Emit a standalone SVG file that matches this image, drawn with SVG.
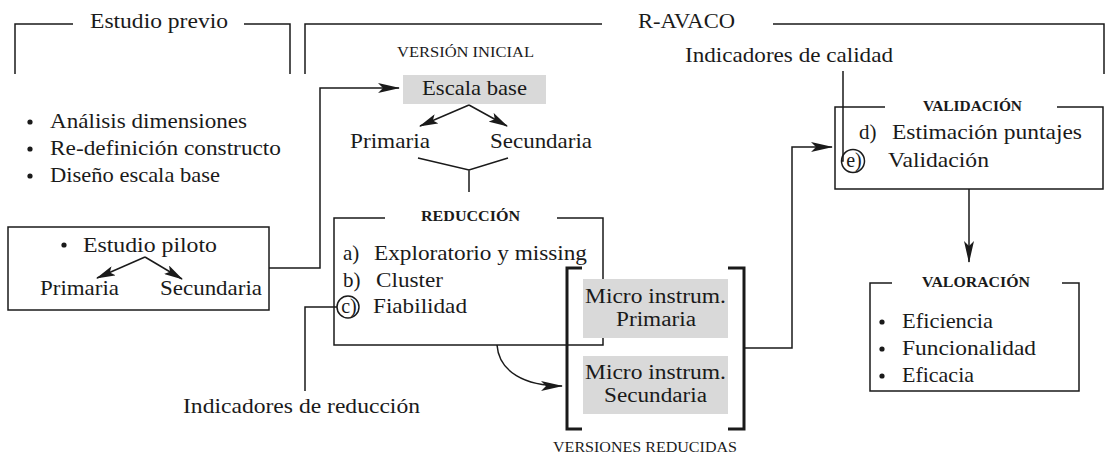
<svg xmlns="http://www.w3.org/2000/svg" width="1105" height="455" viewBox="0 0 1105 455">
<style>
text{font-family:"Liberation Serif","Times New Roman",serif;fill:#1a1a1a;font-size:21px}
.sc{font-size:14.5px}
.scb{font-size:14.5px;font-weight:bold}
.c{text-anchor:middle;font-size:20px}
.m{font-size:20px}
.ln{fill:none;stroke:#1a1a1a;stroke-width:1.5}
.br{fill:none;stroke:#1a1a1a;stroke-width:3}
.gray{fill:#d9d9d9}
.dot{fill:#1a1a1a}
</style>
<defs>
<marker id="big" viewBox="0 0 22 10" markerWidth="22" markerHeight="10" refX="21" refY="5" orient="auto" markerUnits="userSpaceOnUse">
<path d="M0,0 L22,5 L0,10 L5,5 z" fill="#1a1a1a"/>
</marker>
<marker id="sm" viewBox="0 0 19 10" markerWidth="19" markerHeight="10" refX="18" refY="5" orient="auto" markerUnits="userSpaceOnUse">
<path d="M0,0 L19,5 L0,10 L4,5 z" fill="#1a1a1a"/>
</marker>
</defs>

<g id="estudio-previo">
<path class="ln" d="M15,74 V24 H73 M244,24 H290 V74"/>
<text x="90" y="28" textLength="138" lengthAdjust="spacingAndGlyphs">Estudio previo</text>
<circle class="dot" cx="30" cy="122" r="2.6"/>
<text x="50" y="128" textLength="197" lengthAdjust="spacingAndGlyphs">Análisis dimensiones</text>
<circle class="dot" cx="30" cy="149" r="2.6"/>
<text x="50" y="155" textLength="231" lengthAdjust="spacingAndGlyphs">Re-definición constructo</text>
<circle class="dot" cx="30" cy="176" r="2.6"/>
<text x="50" y="182" textLength="170" lengthAdjust="spacingAndGlyphs">Diseño escala base</text>
</g>

<g id="r-avaco">
<path class="ln" d="M305,74 V24 H602 M773,24 H1104 V74"/>
<text x="638" y="28" textLength="97" lengthAdjust="spacingAndGlyphs">R-AVACO</text>
</g>

<g id="estudio-piloto">
<rect class="ln" x="8" y="227" width="261" height="83"/>
<circle class="dot" cx="64" cy="245" r="2.6"/>
<text x="83" y="252" textLength="134" lengthAdjust="spacingAndGlyphs">Estudio piloto</text>
<path class="ln" d="M145,257 L97,278" marker-end="url(#sm)"/>
<path class="ln" d="M145,257 L182,279" marker-end="url(#sm)"/>
<text x="40" y="295" textLength="79" lengthAdjust="spacingAndGlyphs">Primaria</text>
<text x="160" y="295" textLength="102" lengthAdjust="spacingAndGlyphs">Secundaria</text>
</g>

<g id="version-inicial">
<text class="sc" x="397" y="57" textLength="137" lengthAdjust="spacingAndGlyphs">VERSIÓN INICIAL</text>
<rect class="gray" x="403" y="75" width="143" height="29"/>
<text x="422" y="95" textLength="105" lengthAdjust="spacingAndGlyphs">Escala base</text>
<path class="ln" d="M469,105 L420,126" marker-end="url(#sm)"/>
<path class="ln" d="M469,105 L507,126" marker-end="url(#sm)"/>
<text x="350" y="148" textLength="80" lengthAdjust="spacingAndGlyphs">Primaria</text>
<text x="490" y="148" textLength="102" lengthAdjust="spacingAndGlyphs">Secundaria</text>
<path class="ln" d="M418,158 L469,170 L508,158 M469,170 V192"/>
</g>

<g id="reduccion">
<path class="ln" d="M385,218 H334 V345 H603 V218 H557"/>
<text class="scb" x="421" y="221" textLength="99" lengthAdjust="spacingAndGlyphs">REDUCCIÓN</text>
<text x="343" y="260">a)</text>
<text x="374" y="260" textLength="213" lengthAdjust="spacingAndGlyphs">Exploratorio y missing</text>
<text x="343" y="287">b)</text>
<text x="376" y="287" textLength="67" lengthAdjust="spacingAndGlyphs">Cluster</text>
<circle class="ln" cx="348" cy="307" r="11"/>
<text class="c" x="349" y="313">c)</text>
<text x="373" y="313" textLength="94" lengthAdjust="spacingAndGlyphs">Fiabilidad</text>
</g>

<g id="indicadores-reduccion">
<text x="183" y="413" textLength="237" lengthAdjust="spacingAndGlyphs">Indicadores de reducción</text>
</g>

<g id="versiones-reducidas">
<rect class="gray" x="583" y="279" width="145" height="59"/>
<text class="m" x="585" y="303" textLength="141" lengthAdjust="spacingAndGlyphs">Micro instrum.</text>
<text class="m" x="616" y="326" textLength="80" lengthAdjust="spacingAndGlyphs">Primaria</text>
<rect class="gray" x="583" y="356" width="145" height="58"/>
<text class="m" x="585" y="379" textLength="141" lengthAdjust="spacingAndGlyphs">Micro instrum.</text>
<text class="m" x="604" y="402" textLength="103" lengthAdjust="spacingAndGlyphs">Secundaria</text>
<path class="br" d="M582,268 H567 V429 H582"/>
<path class="br" d="M728,268 H744 V429 H728"/>
<text class="sc" x="553" y="452" textLength="184" lengthAdjust="spacingAndGlyphs">VERSIONES REDUCIDAS</text>
</g>

<g id="indicadores-calidad">
<text x="685" y="62" textLength="208" lengthAdjust="spacingAndGlyphs">Indicadores de calidad</text>
</g>

<g id="validacion">
<path class="ln" d="M885,107 H835 V189 H1103 V107 H1057"/>
<text class="scb" x="923" y="111" textLength="99" lengthAdjust="spacingAndGlyphs">VALIDACIÓN</text>
<text x="859" y="139">d)</text>
<text x="892" y="139" textLength="190" lengthAdjust="spacingAndGlyphs">Estimación puntajes</text>
<circle class="ln" cx="853" cy="161" r="11.5"/>
<text class="c" x="854" y="167">e)</text>
<text x="888" y="167" textLength="101" lengthAdjust="spacingAndGlyphs">Validación</text>
</g>

<g id="valoracion">
<path class="ln" d="M892,283 H870 V391 H1079 V283 H1062"/>
<text class="scb" x="922" y="287" textLength="108" lengthAdjust="spacingAndGlyphs">VALORACIÓN</text>
<circle class="dot" cx="882" cy="322" r="2.6"/>
<text x="902" y="328" textLength="91" lengthAdjust="spacingAndGlyphs">Eficiencia</text>
<circle class="dot" cx="882" cy="349" r="2.6"/>
<text x="902" y="355" textLength="134" lengthAdjust="spacingAndGlyphs">Funcionalidad</text>
<circle class="dot" cx="882" cy="376" r="2.6"/>
<text x="902" y="382" textLength="72" lengthAdjust="spacingAndGlyphs">Eficacia</text>
</g>

<g id="connectors">
<path class="ln" d="M269,268 H320 V88 H399" marker-end="url(#big)"/>
<path class="ln" d="M337,307 H305 V391"/>
<path class="ln" d="M497,345 C499,372 525,386 562,386" marker-end="url(#big)"/>
<path class="ln" d="M744,348 H792 V147 H832" marker-end="url(#big)"/>
<path class="ln" d="M843,71 V161 H841.5"/>
<path class="ln" d="M969,189 V262" marker-end="url(#big)"/>
</g>
</svg>
